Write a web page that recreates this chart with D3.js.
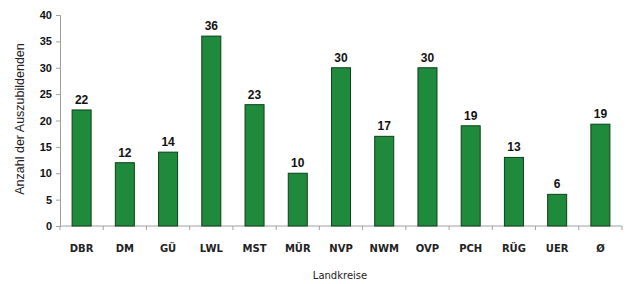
<!DOCTYPE html>
<html>
<head>
<meta charset="utf-8">
<script src="https://cdn.jsdelivr.net/npm/d3@7"></script>
<style>
body { margin: 0; background: #fff; }
</style>
</head>
<body>
<script>
// Landkreise und Anzahl der Auszubildenden
const kreise = ["DBR", "DM", "GÜ", "LWL", "MST", "MÜR", "NVP", "NWM", "OVP", "PCH", "RÜG", "UER", "Ø"]
const anzahl = [22, 12, 14, 36, 23, 10, 30, 17, 30, 19, 13, 6, 19.3]
const labels = ["22", "12", "14", "36", "23", "10", "30", "17", "30", "19", "13", "6", "19"]
const yTicks = [0, 5, 10, 15, 20, 25, 30, 35, 40]

const width = 626, height = 284
const mLeft = 60, mRight = 622, mTop = 15, mBottom = 226

const svg = d3.select("body").append("svg").attr("width", width).attr("height", height)

const x = d3.scaleBand().domain(kreise).range([mLeft, mRight]).paddingInner(0.56).paddingOuter(0.28)
const y = d3.scaleLinear().domain([0, 40]).range([mBottom, mTop])

// y Achse
const yAxis = svg.append("g")
    .attr("transform", "translate(" + mLeft + ",0)")
    .call(d3.axisLeft(y).tickValues(yTicks).tickSize(4).tickPadding(4))
yAxis.selectAll("path, line").attr("stroke", "#a0a0a0")
yAxis.selectAll("text")
    .attr("font-family", "Liberation Sans, Arial, sans-serif")
    .attr("font-weight", "bold").attr("font-size", 11).attr("fill", "#111")

// x Achse, Striche zwischen den Kategorien
svg.append("line")
    .attr("x1", mLeft).attr("x2", mRight).attr("y1", mBottom).attr("y2", mBottom)
    .attr("stroke", "#a0a0a0")
svg.selectAll(".xt").data(d3.range(kreise.length + 1)).join("line")
    .attr("x1", i => mLeft + i * x.step())
    .attr("x2", i => mLeft + i * x.step())
    .attr("y1", mBottom).attr("y2", mBottom + 4)
    .attr("stroke", "#a0a0a0")

svg.selectAll(".xl").data(kreise).join("text")
    .attr("x", d => x(d) + x.bandwidth() / 2)
    .attr("y", 252)
    .attr("text-anchor", "middle")
    .attr("font-family", "DejaVu Sans, Verdana, sans-serif")
    .attr("font-weight", "bold").attr("font-size", 10)
    .attr("fill", "#222")
    .text(d => d)

// Balken
svg.selectAll(".bar").data(anzahl).join("rect")
    .attr("x", (d, i) => x(kreise[i]))
    .attr("width", x.bandwidth())
    .attr("y", d => y(d))
    .attr("height", d => mBottom - y(d))
    .attr("fill", "#1f8a3c")
    .attr("stroke", "#0e3f1b")
    .attr("stroke-width", 1)

svg.selectAll(".val").data(anzahl).join("text")
    .attr("x", (d, i) => x(kreise[i]) + x.bandwidth() / 2)
    .attr("y", d => y(d) - 6)
    .attr("text-anchor", "middle")
    .attr("font-family", "Liberation Sans, Arial, sans-serif")
    .attr("font-weight", "bold").attr("font-size", 12)
    .attr("fill", "#111")
    .text((d, i) => labels[i])

// Achsentitel
svg.append("text")
    .attr("transform", "translate(24," + 119 + ") rotate(-90)")
    .attr("text-anchor", "middle")
    .attr("font-family", "Liberation Sans, Arial, sans-serif")
    .attr("font-size", 12.5).attr("fill", "#222")
    .text("Anzahl der Auszubildenden")

svg.append("text")
    .attr("x", 340).attr("y", 279)
    .attr("text-anchor", "middle")
    .attr("font-family", "DejaVu Sans, Verdana, sans-serif")
    .attr("font-size", 10).attr("fill", "#222")
    .text("Landkreise")
</script>
</body>
</html>
